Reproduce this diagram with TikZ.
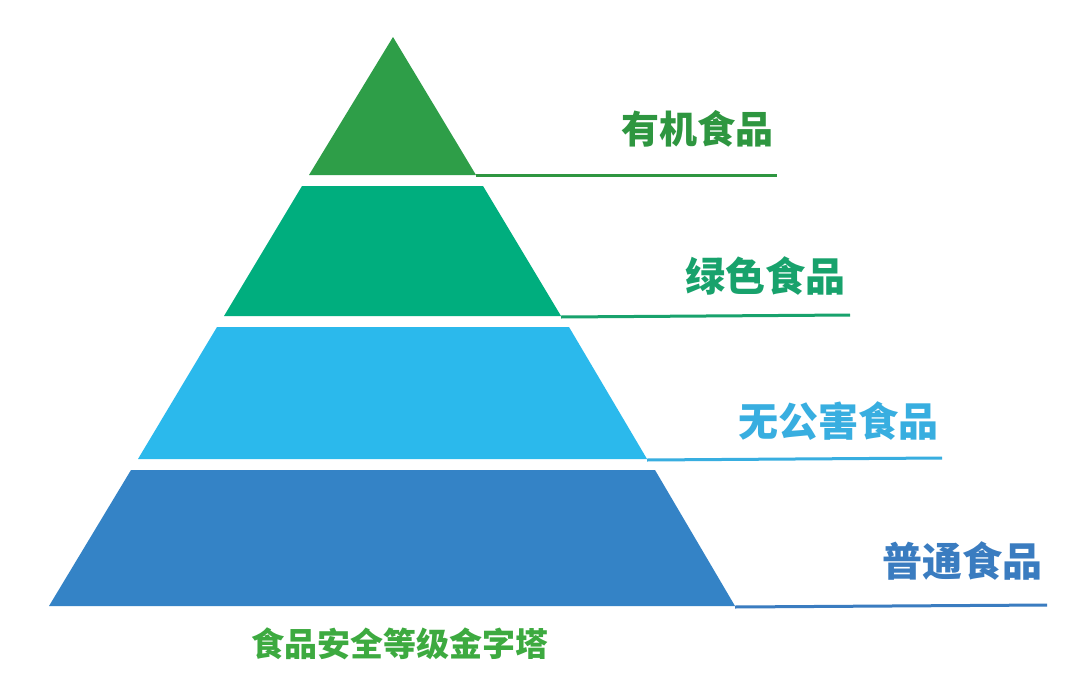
\documentclass[tikz,border=0pt]{standalone}
\usepackage{fontspec}
\newfontfamily\cjk{Noto Sans CJK SC}
\definecolor{cA}{HTML}{2E9E48}
\definecolor{cB}{HTML}{00AE7E}
\definecolor{cC}{HTML}{2BB9EC}
\definecolor{cD}{HTML}{3483C6}
\definecolor{tA}{HTML}{2E9640}
\definecolor{tB}{HTML}{18A26C}
\definecolor{tC}{HTML}{38AEE0}
\definecolor{tD}{HTML}{3A7CC0}
\definecolor{tE}{HTML}{3DAA40}
\tikzset{
  lbl/.style={font=\cjk\bfseries\fontsize{40}{44}\selectfont, inner sep=0pt},
  rule/.style={line width=3pt},
}
\begin{document}
\begin{tikzpicture}[x=1pt,y=-1pt]
\useasboundingbox (0,0) rectangle (1080,683);
\fill[white] (0,0) rectangle (1080,683);
% tier 1
\coordinate (a0) at (393,37);
\coordinate (a1) at (309,175);
\coordinate (a2) at (476,175);
\fill[cA] (a0) -- (a2) -- (a1) -- cycle;
% tier 2
\coordinate (b1) at (302,186);
\coordinate (b2) at (483,186);
\coordinate (b3) at (561,316);
\coordinate (b4) at (224,316);
\fill[cB] (b1) -- (b2) -- (b3) -- (b4) -- cycle;
% tier 3
\coordinate (c1) at (217,327);
\coordinate (c2) at (569,327);
\coordinate (c3) at (647,459);
\coordinate (c4) at (138,459);
\fill[cC] (c1) -- (c2) -- (c3) -- (c4) -- cycle;
% tier 4
\coordinate (d1) at (131,470);
\coordinate (d2) at (655,470);
\coordinate (d3) at (735,606);
\coordinate (d4) at (49,606);
\fill[cD] (d1) -- (d2) -- (d3) -- (d4) -- cycle;
% rules
\coordinate (ea) at (777,175);
\coordinate (eb) at (850,315);
\coordinate (ec) at (942,458);
\coordinate (ed) at (1047,605);
\draw[rule,tA] (a2) -- (ea);
\draw[rule,tB] ([yshift=-1]b3) -- (eb);
\draw[rule,tC] ([yshift=-1]c3) -- (ec);
\draw[rule,tD] ([yshift=-1]d3) -- (ed);
% labels
\node[lbl,text=tA,font=\cjk\bfseries\fontsize{38}{42}\selectfont] (la) at (697,129) {有机食品};
\node[lbl,text=tB] (lb) at (765,276) {绿色食品};
\node[lbl,text=tC] (lc) at (838,421) {无公害食品};
\node[lbl,text=tD] (ld) at (962,561) {普通食品};
\node[lbl,text=tE,font=\cjk\bfseries\fontsize{33}{36}\selectfont] (cap) at (400,644) {食品安全等级金字塔};
\end{tikzpicture}
\end{document}
